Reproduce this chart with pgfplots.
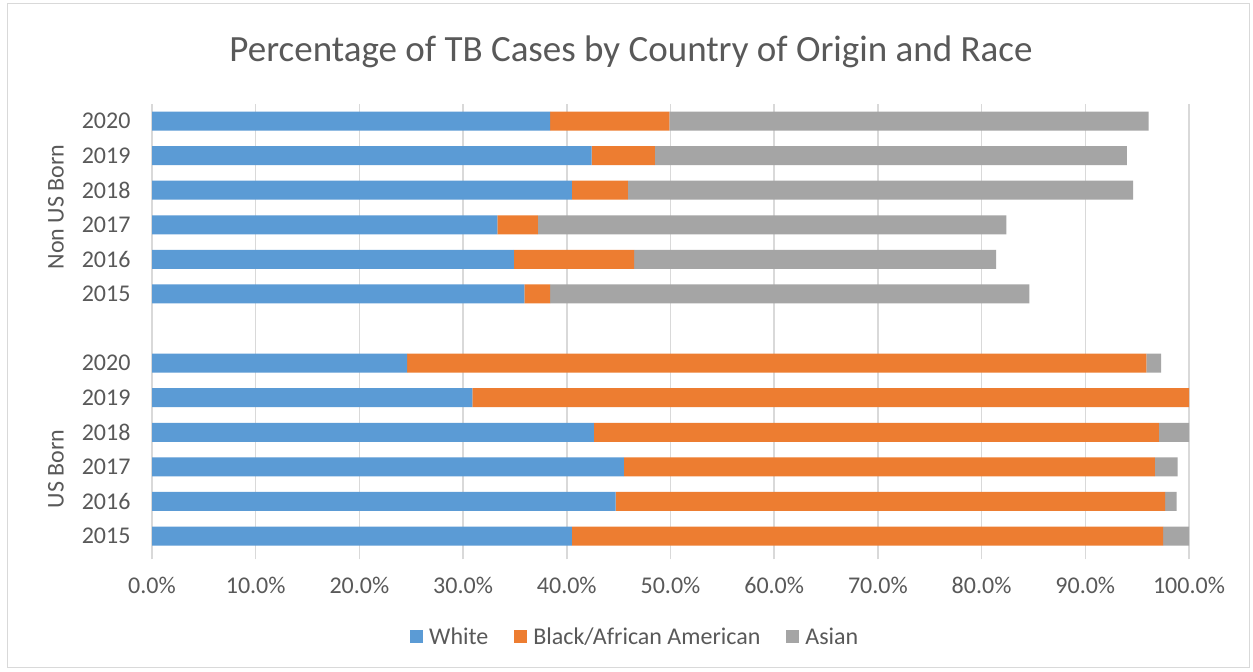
\documentclass[border=0pt]{standalone}
\usepackage{fontspec}
\setmainfont{Carlito}
\usepackage{pgfplots}
\pgfplotsset{compat=1.18}
\usepackage{pgfplotstable}
\definecolor{cW}{HTML}{5B9BD5}
\definecolor{cB}{HTML}{ED7D31}
\definecolor{cA}{HTML}{A5A5A5}
\definecolor{txt}{HTML}{595959}
\definecolor{grd}{HTML}{D9D9D9}

\pgfplotstableread{
pos W B A
0 40.5 57.0 2.5
1 44.7 53.0 1.1
2 45.5 51.2 2.2
3 42.6 54.5 2.9
4 30.9 69.1 0
5 24.6 71.3 1.4
7 35.9 2.5 46.2
8 34.9 11.6 34.9
9 33.3 3.9 45.2
10 40.5 5.4 48.7
11 42.4 6.1 45.5
12 38.4 11.5 46.2
}\data

\begin{document}
\begin{tikzpicture}[x=1pt,y=1pt]
\useasboundingbox (0,0) rectangle (1253,672);
\fill[white] (0,0) rectangle (1253,672);
\draw[grd, line width=1pt] (7,4) rectangle (1249,668);
\node[anchor=base, font=\fontsize{37}{44}\selectfont, text=txt] at (631,610) {Percentage of TB Cases by Country of Origin and Race};
\begin{axis}[at={(152pt,118.7pt)}, anchor=south west, scale only axis,
  width=1037pt, height=449.5pt,
  xbar stacked, bar width=19pt,
  xmin=0, xmax=100, ymin=-0.5, ymax=12.5,
  axis line style={draw=none},
  xmajorgrids, grid style={grd, line width=1.5pt},
  xtick={0,10,...,100},
  xtick pos=bottom, tick align=outside,
  major tick length=6pt,
  xtick style={grd, line width=1.5pt},
  ytick style={draw=none},
  xticklabel={\pgfmathprintnumber[fixed,fixed zerofill,precision=1]{\tick}\%},
  /pgf/number format/assume math mode=true,
  ytick={0,1,2,3,4,5,7,8,9,10,11,12},
  yticklabels={2015,2016,2017,2018,2019,2020,2015,2016,2017,2018,2019,2020},
  tick label style={font=\fontsize{24}{28}\selectfont, text=txt},
  yticklabel style={xshift=-12pt},
  xticklabel style={yshift=-14pt},
  legend style={at={(0.466,-0.186)}, anchor=center, draw=none, fill=none,
    legend columns=-1, font=\fontsize{24}{28}\selectfont, text=txt,
    /tikz/every odd column/.append style={column sep=4pt},
    /tikz/every even column/.append style={column sep=24pt}},
  legend image code/.code={\fill[#1] (0pt,-6.5pt) rectangle (13pt,6.5pt);},
]
\addplot[fill=cW, draw=none] table[x=W, y=pos] {\data};
\addlegendentry{White}
\addplot[fill=cB, draw=none] table[x=B, y=pos] {\data};
\addlegendentry{Black/African American}
\addplot[fill=cA, draw=none] table[x=A, y=pos] {\data};
\addlegendentry{Asian}
\end{axis}
\node[rotate=90, font=\fontsize{24}{28}\selectfont, text=txt] at (56,465) {Non US Born};
\node[rotate=90, font=\fontsize{24}{28}\selectfont, text=txt] at (56,203) {US Born};
\end{tikzpicture}
\end{document}
